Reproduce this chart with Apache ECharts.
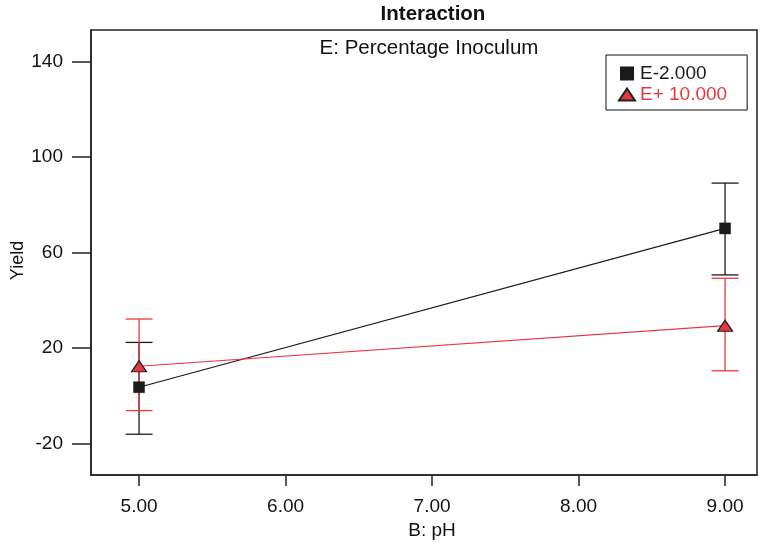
<!DOCTYPE html>
<html>
<head>
<meta charset="utf-8">
<script src="https://cdn.jsdelivr.net/npm/echarts@6/dist/echarts.min.js"></script>
<style>html,body{margin:0;padding:0;background:#fff;}#c{width:769px;height:545px;}</style>
</head>
<body>
<div id="c"></div>
<script>
const xValues = [5, 9];
const blackMean = [3.5, 70.1];
const blackLow = [-16.2, 50.6];
const blackHigh = [22.3, 89.1];
const redMean = [12.3, 29.3];
const redLow = [-6.3, 10.4];
const redHigh = [32.1, 49.2];
const xTicks = [5, 6, 7, 8, 9];
const yTicks = [-20, 20, 60, 100, 140];
const seriesNames = ['E-2.000', 'E+ 10.000'];

const BLACK = '#1a1a1a';
const RED = '#e8383f';
const FONT = 'Liberation Sans, Arial, sans-serif';

function errData(low, high) {
  return xValues.map((x, i) => [x, low[i], high[i]]);
}
function errRender(color) {
  return function (params, api) {
    const x = api.value(0);
    const lo = api.coord([x, api.value(1)]);
    const hi = api.coord([x, api.value(2)]);
    const half = 13.5;
    const style = { stroke: color, lineWidth: 1.3 };
    return {
      type: 'group',
      children: [
        { type: 'line', shape: { x1: lo[0], y1: lo[1], x2: hi[0], y2: hi[1] }, style: style },
        { type: 'line', shape: { x1: lo[0] - half, y1: lo[1], x2: lo[0] + half, y2: lo[1] }, style: style },
        { type: 'line', shape: { x1: hi[0] - half, y1: hi[1], x2: hi[0] + half, y2: hi[1] }, style: style }
      ]
    };
  };
}

const chart = echarts.init(document.getElementById('c'), null, { renderer: 'canvas' });
chart.setOption({
  animation: false,
  backgroundColor: '#fff',
  textStyle: { fontFamily: FONT },
  title: [
    { text: 'Interaction', left: 428, top: -1, textAlign: 'center',
      textStyle: { fontFamily: FONT, fontSize: 20.5, fontWeight: 'bold', color: '#111' } },
    { text: 'E: Percentage Inoculum', left: 424, top: 33, textAlign: 'center',
      textStyle: { fontFamily: FONT, fontSize: 20.5, fontWeight: 'normal', color: '#111' } }
  ],
  legend: {
    orient: 'vertical',
    left: 606, top: 55,
    padding: [9, 20, 6, 12],
    itemGap: 2,
    itemWidth: 16, itemHeight: 12,
    symbolKeepAspect: true,
    borderColor: '#111', borderWidth: 1,
    backgroundColor: '#fff',
    data: [
      { name: seriesNames[0], icon: 'path://M0,0H10V10H0Z', textStyle: { color: BLACK } },
      { name: seriesNames[1], icon: 'triangle', textStyle: { color: RED } }
    ],
    textStyle: { fontFamily: FONT, fontSize: 19 }
  },
  grid: {
    left: 91, top: 30, right: 12, bottom: 70,
    outerBoundsMode: 'none',
    show: true, borderColor: '#222', borderWidth: 1.5, backgroundColor: 'transparent'
  },
  xAxis: {
    type: 'value',
    min: 4.672, max: 9.218,
    name: 'B: pH', nameLocation: 'middle', nameGap: 46, nameMoveOverlap: false,
    nameTextStyle: { fontFamily: FONT, fontSize: 19, color: '#111', padding: [0, 0, 0, 16] },
    splitLine: { show: false },
    axisLine: { show: true, onZero: false, lineStyle: { color: '#222', width: 1.5 } },
    axisTick: { show: true, length: 11, customValues: xTicks, lineStyle: { color: '#222', width: 1.5 } },
    axisLabel: { customValues: xTicks, margin: 22, fontSize: 19, color: '#111', fontFamily: FONT,
      formatter: v => v.toFixed(2) }
  },
  yAxis: {
    type: 'value',
    min: -33.3, max: 153.3,
    name: 'Yield', nameLocation: 'middle', nameGap: 64, nameRotate: 90, nameMoveOverlap: false,
    nameTextStyle: { fontFamily: FONT, fontSize: 18, color: '#111', padding: [0, 16, 0, 0] },
    splitLine: { show: false },
    axisLine: { show: true, onZero: false, lineStyle: { color: '#222', width: 1.5 } },
    axisTick: { show: true, length: 19, customValues: yTicks, lineStyle: { color: '#222', width: 1.5 } },
    axisLabel: { customValues: yTicks, margin: 28, fontSize: 19, color: '#111', fontFamily: FONT }
  },
  series: [
    { type: 'custom', name: 'errBlack', data: errData(blackLow, blackHigh),
      renderItem: errRender(BLACK), z: 2, silent: true },
    { type: 'custom', name: 'errRed', data: errData(redLow, redHigh),
      renderItem: errRender(RED), z: 3, silent: true },
    { type: 'line', name: seriesNames[0], data: xValues.map((x, i) => [x, blackMean[i]]),
      symbol: 'rect', symbolSize: 11, z: 4,
      lineStyle: { color: BLACK, width: 1.2 },
      itemStyle: { color: BLACK, borderColor: BLACK, borderWidth: 0.5 } },
    { type: 'line', name: seriesNames[1], data: xValues.map((x, i) => [x, redMean[i]]),
      symbol: 'triangle', symbolSize: [15, 11], z: 5,
      lineStyle: { color: RED, width: 1.2 },
      itemStyle: { color: RED, borderColor: '#222', borderWidth: 1.2 } }
  ]
});
</script>
</body>
</html>
